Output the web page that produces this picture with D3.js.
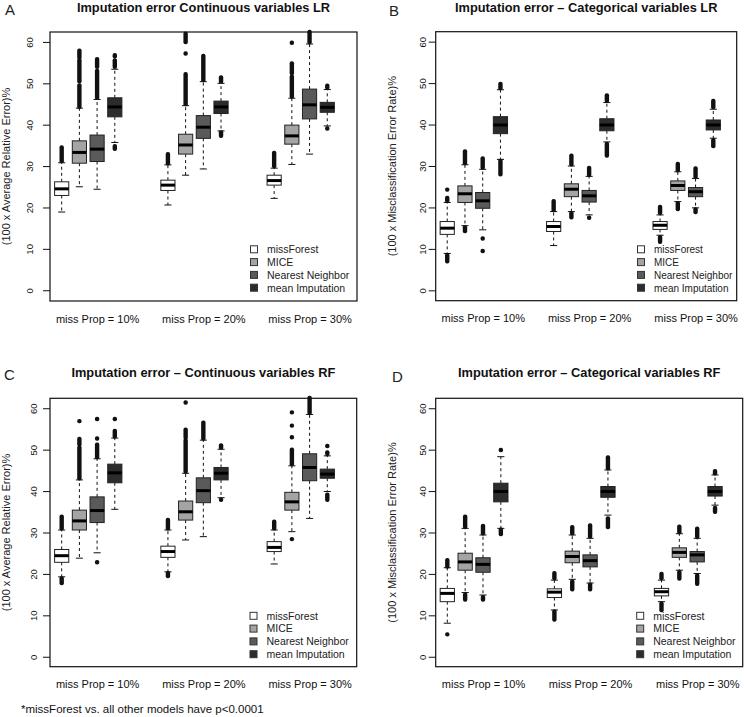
<!DOCTYPE html>
<html><head><meta charset="utf-8">
<script src="https://cdn.jsdelivr.net/npm/d3@7"></script>
<style>
body{margin:0;background:#fff}
svg{display:block;font-family:"Liberation Sans",Arial,sans-serif}
</style>
</head><body>
<svg id="chart" width="744" height="717"></svg>
<script>
// ---------- data ----------
const methods = ["missForest", "MICE", "Nearest Neighbor", "mean Imputation"];
const methodFills = ["#ffffff", "#a4a4a4", "#5a5a5a", "#2c2c2c"];
const propLabels = ["miss Prop = 10%", "miss Prop = 20%", "miss Prop = 30%"];
const labelPositions = [3, 9, 15];
const yTicks = [0, 10, 20, 30, 40, 50, 60];
const footnote = "*missForest vs. all other models have p<0.0001";

// box stats per box: [lower whisker, Q1, median, Q3, upper whisker]
// order: 10% (missForest, MICE, NN, mean), 20% (...), 30% (...)
const contLRStats = [
  [18.9, 22.9, 24.5, 26.2, 30.8], [25.0, 30.7, 33.3, 36.1, 44.0], [24.4, 31.1, 34.1, 37.5, 46.1], [35.7, 41.9, 44.3, 46.5, 53.4],
  [20.6, 24.1, 25.4, 26.6, 30.3], [27.8, 32.9, 35.1, 37.7, 44.6], [29.3, 36.7, 39.4, 42.2, 50.4], [38.5, 42.7, 44.3, 45.7, 50.0],
  [22.2, 25.4, 26.5, 27.8, 29.5], [30.4, 35.3, 37.3, 39.9, 46.4], [32.9, 41.4, 44.8, 48.6, 59.5], [39.7, 43.0, 44.2, 45.4, 48.5]
];
// outlier runs per box: [low, high] (single point when equal)
const contLROut = [
  [[31.2, 34.5]], [[44.3, 49.5], [50.5, 55.5], [56.2, 57.9]], [[46.5, 53.0], [54.0, 55.8]], [[54.0, 55.5], [56.5, 56.8], [34.2, 34.8]],
  [[30.7, 32.9]], [[45.0, 52.2], [57.2, 57.2], [60.0, 62.0]], [[50.8, 56.6]], [[50.4, 51.4], [37.3, 38.1]],
  [[30.0, 33.2]], [[46.8, 51.6], [52.5, 54.8], [59.8, 59.8]], [[60.0, 62.4]], [[49.0, 49.4], [39.1, 39.1]]
];

const catLRStats = [
  [8.9, 13.5, 15.0, 16.6, 21.2], [15.6, 21.2, 23.3, 25.2, 30.3], [14.6, 19.8, 21.6, 23.6, 29.2], [31.6, 37.8, 39.9, 41.9, 48.4],
  [10.8, 14.2, 15.4, 16.6, 19.0], [19.0, 22.6, 24.4, 25.7, 30.0], [18.2, 21.3, 22.8, 24.1, 27.5], [35.8, 38.5, 39.9, 41.4, 45.3],
  [13.3, 14.7, 15.7, 16.6, 18.2], [21.4, 24.1, 25.3, 26.4, 28.6], [19.9, 22.6, 23.8, 24.8, 27.0], [36.7, 38.7, 39.9, 41.1, 43.7]
];
const catLROut = [
  [[21.6, 22.3], [24.3, 24.3], [7.0, 8.5]], [[30.7, 33.5], [14.3, 15.2]], [[29.6, 31.8], [12.5, 12.5], [9.5, 9.5]], [[48.8, 49.8], [28.0, 31.2]],
  [[19.4, 21.5]], [[30.4, 32.5], [17.6, 18.6]], [[27.9, 29.5], [17.5, 17.5]], [[45.7, 47.0], [32.5, 35.3]],
  [[18.7, 20.1], [11.7, 12.8]], [[29.0, 30.5], [19.6, 21.0]], [[27.4, 29.4], [18.9, 19.5]], [[44.2, 45.7], [34.8, 36.2]]
];

const contRFStats = [
  [19.3, 22.8, 24.4, 25.9, 30.6], [23.8, 30.6, 32.8, 35.4, 42.7], [25.1, 32.4, 35.3, 38.6, 47.8], [35.6, 42.0, 44.4, 46.5, 52.8],
  [20.5, 24.0, 25.4, 26.7, 30.6], [28.2, 33.0, 35.0, 37.6, 44.3], [29.0, 37.2, 40.1, 43.2, 52.3], [38.4, 42.7, 44.3, 45.7, 50.1],
  [22.4, 25.4, 26.4, 27.8, 30.6], [30.2, 35.4, 37.4, 39.7, 46.1], [33.4, 42.5, 45.7, 49.0, 58.5], [39.9, 43.1, 44.1, 45.3, 48.5]
];
const contRFOut = [
  [[31.0, 33.8], [17.8, 18.9]], [[43.1, 50.5], [51.3, 52.6], [56.9, 56.9]], [[48.2, 51.2], [52.7, 52.7], [57.4, 57.4], [22.8, 22.8]], [[53.2, 54.5], [57.4, 57.4]],
  [[31.0, 33.0], [19.5, 20.2]], [[44.7, 52.3], [53.0, 54.8], [61.4, 61.4]], [[52.7, 56.5]], [[50.5, 51.0], [37.9, 37.9]],
  [[31.0, 32.6]], [[46.5, 50.0], [53.0, 53.0], [55.8, 55.8], [59.0, 59.0], [28.4, 28.4]], [[58.9, 62.5]], [[49.0, 49.3], [50.9, 50.9], [37.9, 39.1]]
];

const catRFStats = [
  [8.1, 13.3, 15.3, 16.5, 21.5], [15.5, 20.9, 22.9, 25.0, 31.0], [14.9, 20.4, 22.3, 23.9, 29.4], [31.0, 37.4, 39.9, 41.9, 48.3],
  [11.3, 14.3, 15.6, 16.4, 18.5], [18.7, 22.7, 24.2, 25.5, 29.4], [17.8, 21.7, 23.2, 24.6, 28.6], [34.2, 38.5, 39.9, 41.1, 45.1],
  [13.3, 14.7, 15.7, 16.5, 18.5], [20.9, 24.0, 25.2, 26.3, 29.7], [20.1, 22.9, 24.6, 25.4, 28.6], [36.6, 38.8, 39.9, 41.1, 43.9]
];
const catRFOut = [
  [[21.8, 23.3], [5.4, 5.4]], [[31.4, 33.8], [13.8, 15.0]], [[29.8, 31.6], [13.8, 14.4]], [[49.9, 49.9], [29.6, 30.7]],
  [[19.0, 20.2], [9.0, 10.9]], [[29.8, 31.3], [16.3, 18.2]], [[29.0, 31.7], [16.3, 17.4]], [[45.5, 48.1], [31.3, 33.4]],
  [[19.0, 20.0], [11.3, 12.8]], [[30.1, 31.4], [18.9, 20.4]], [[29.0, 30.9], [17.6, 19.6]], [[44.3, 44.8], [35.0, 35.9]]
];

// ---------- layout ----------
const panels = [
  {letter: "A", title: "Imputation error Continuous variables LR", ylab: "(100 x Average Relative Error)%",
   stats: contLRStats, out: contLROut,
   l: 50, r: 357, t: 32, b: 301, xDom: [0.34, 17.68], yDom: [-2.6, 62.4],
   titleY: 11.5, letterX: 5, letterY: 15, tickOff: 17, ylabX: 10, legX: 250.5, legY: 249.3, legFont: 10.5},
  {letter: "B", title: "Imputation error \u2013 Categorical variables LR", ylab: "(100 x Misclassification Error Rate)%",
   stats: catLRStats, out: catLROut,
   l: 435.7, r: 736.7, t: 31.7, b: 300.7, xDom: [0.35, 17.32], yDom: [-2.5, 62.4],
   titleY: 11.5, letterX: 389, letterY: 15.5, tickOff: 10, ylabX: 395.5, legX: 637.5, legY: 249.3, legFont: 10},
  {letter: "C", title: "Imputation error \u2013 Continuous variables RF", ylab: "(100 x Average Relative Error)%",
   stats: contRFStats, out: contRFOut,
   l: 50, r: 356.7, t: 398.3, b: 666.7, xDom: [0.34, 17.66], yDom: [-2.4, 62.4],
   titleY: 377, letterX: 4, letterY: 380, tickOff: 13, ylabX: 10, legX: 250, legY: 615.8, legFont: 10.5},
  {letter: "D", title: "Imputation error \u2013 Categorical variables RF", ylab: "(100 x Misclassification Error Rate)%",
   stats: catRFStats, out: catRFOut,
   l: 435.7, r: 742.7, t: 398.3, b: 666.7, xDom: [0.35, 17.55], yDom: [-2.4, 62.4],
   titleY: 377, letterX: 392, letterY: 382, tickOff: 9.5, ylabX: 396, legX: 636.7, legY: 615.8, legFont: 10.5}
];

const svg = d3.select("#chart");

panels.forEach(p => {
  const g = svg.append("g");
  const x = d3.scaleLinear().domain(p.xDom).range([p.l, p.r]);
  const y = d3.scaleLinear().domain(p.yDom).range([p.b, p.t]);

  // panel letter
  g.append("text").attr("x", p.letterX).attr("y", p.letterY)
    .attr("font-size", 15).attr("fill", "#222").text(p.letter);
  // title
  g.append("text").attr("x", (p.l + p.r) / 2).attr("y", p.titleY)
    .attr("text-anchor", "middle").attr("font-size", 12.8).attr("font-weight", "bold")
    .attr("fill", "#111").text(p.title);

  // y axis
  const ya = g.append("g").attr("transform", `translate(${p.l},0)`)
    .call(d3.axisLeft(y).tickValues(yTicks).tickSize(7).tickSizeOuter(0).tickFormat(d3.format("d")));
  ya.select(".domain").remove();
  ya.selectAll(".tick line").attr("stroke", "#111");
  ya.selectAll(".tick text")
    .attr("transform", "rotate(-90)")
    .attr("x", 0).attr("y", -p.tickOff).attr("dy", 0)
    .attr("text-anchor", "middle").attr("font-size", 9.5).attr("fill", "#111")
    .attr("font-family", "Liberation Sans, Arial, sans-serif");

  // y label
  g.append("text")
    .attr("transform", `translate(${p.ylabX},${(p.t + p.b) / 2}) rotate(-90)`)
    .attr("text-anchor", "middle").attr("font-size", 11).attr("fill", "#222").text(p.ylab);

  // x labels
  const xa = g.append("g").attr("transform", `translate(0,${p.b})`)
    .call(d3.axisBottom(x).tickValues(labelPositions).tickSize(0).tickPadding(14)
      .tickFormat((d, i) => propLabels[i]));
  xa.select(".domain").remove();
  xa.selectAll(".tick text").attr("font-size", 11).attr("fill", "#111")
    .attr("font-family", "Liberation Sans, Arial, sans-serif");

  // boxes
  p.stats.forEach((s, i) => {
    const grp = Math.floor(i / 4), m = i % 4;
    const pos = grp * 6 + m + 1;
    const cx = x(pos);
    const bw = x(pos + 0.4) - x(pos - 0.4);
    const [lo, q1, med, q3, hi] = s;
    const bg = g.append("g");
    // whiskers
    bg.append("line").attr("x1", cx).attr("x2", cx).attr("y1", y(q3)).attr("y2", y(hi))
      .attr("stroke", "#111").attr("stroke-dasharray", "3,3");
    bg.append("line").attr("x1", cx).attr("x2", cx).attr("y1", y(q1)).attr("y2", y(lo))
      .attr("stroke", "#111").attr("stroke-dasharray", "3,3");
    [lo, hi].forEach(v => {
      bg.append("line").attr("x1", cx - bw / 4).attr("x2", cx + bw / 4)
        .attr("y1", y(v)).attr("y2", y(v)).attr("stroke", "#111");
    });
    // outliers
    p.out[i].forEach(([a, b]) => {
      bg.append("rect").attr("x", cx - 2.2).attr("width", 4.4)
        .attr("y", y(b) - 2.2).attr("height", y(a) - y(b) + 4.4)
        .attr("rx", 2).attr("fill", "#111");
    });
    // box
    bg.append("rect").attr("x", cx - bw / 2).attr("width", bw)
      .attr("y", y(q3)).attr("height", y(q1) - y(q3))
      .attr("fill", methodFills[m]).attr("stroke", "#222").attr("stroke-width", 1);
    // median
    bg.append("line").attr("x1", cx - bw / 2).attr("x2", cx + bw / 2)
      .attr("y1", y(med)).attr("y2", y(med)).attr("stroke", "#000").attr("stroke-width", 3);
  });

  // plot frame
  g.append("rect").attr("x", p.l).attr("y", p.t).attr("width", p.r - p.l).attr("height", p.b - p.t)
    .attr("fill", "none").attr("stroke", "#111").attr("stroke-width", 1.2);

  // legend
  const lg = g.append("g");
  methods.forEach((name, i) => {
    const yy = p.legY + i * 12.8;
    lg.append("rect").attr("x", p.legX).attr("y", yy - 3.5).attr("width", 7).attr("height", 7)
      .attr("fill", methodFills[i]).attr("stroke", "#333");
    lg.append("text").attr("x", p.legX + 16.5).attr("y", yy + 3.8)
      .attr("font-size", p.legFont).attr("fill", "#222").text(name);
  });
});

svg.append("text").attr("x", 21).attr("y", 713).attr("font-size", 11.5).attr("fill", "#111").text(footnote);
</script>
</body></html>
